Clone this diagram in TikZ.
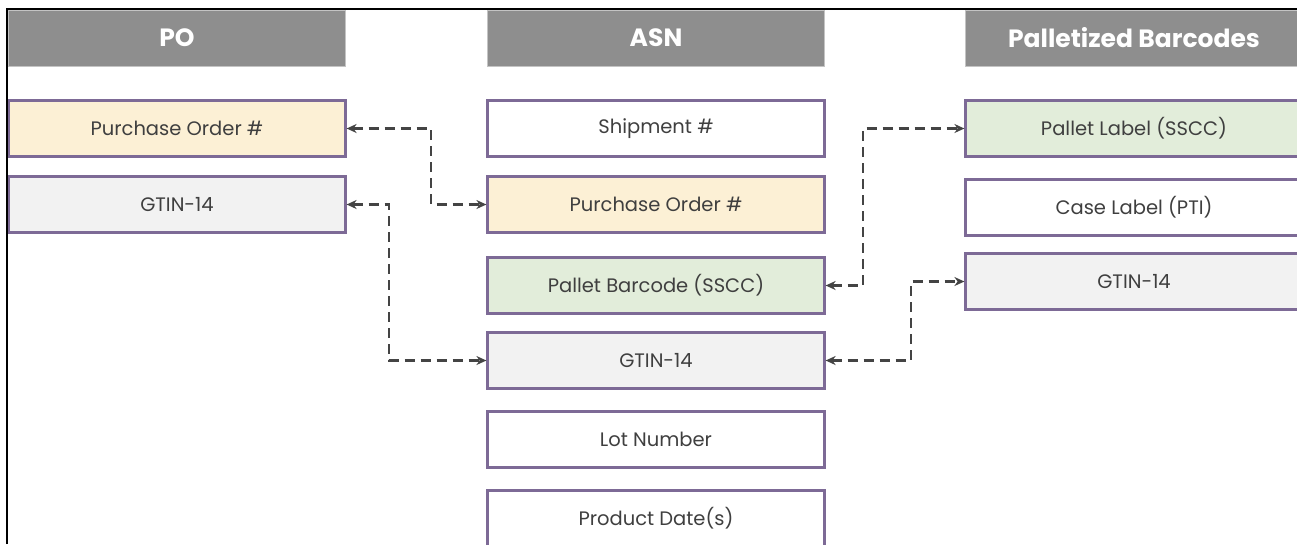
\documentclass[tikz,border=0pt]{standalone}
\usepackage{fontspec}
\setmainfont{Poppins}
\usetikzlibrary{arrows.meta}

\definecolor{hdrgray}{HTML}{8E8E8E}
\definecolor{hdredge}{HTML}{C4C4C4}
\definecolor{edge}{HTML}{7D6A96}
\definecolor{txt}{HTML}{3F3F3F}
\definecolor{yel}{HTML}{FCF0D5}
\definecolor{lgray}{HTML}{F2F2F2}
\definecolor{grn}{HTML}{E2EDDA}
\definecolor{linkgray}{HTML}{444444}

\begin{document}
\begin{tikzpicture}[x=1pt,y=-1pt,
  head/.style={rectangle,fill=hdrgray,draw=hdredge,line width=1pt,text=white,
    font=\fontsize{25}{28}\selectfont\bfseries,minimum width=337pt,minimum height=56pt,inner sep=0pt},
  field/.style={rectangle,draw=edge,line width=2.2pt,text=txt,
    font=\fontsize{19.5}{22}\selectfont,minimum width=337pt,minimum height=56pt,inner sep=0pt},
  link/.style={draw=linkgray,line width=2.6pt,dash pattern=on 10pt off 6pt,
    {Stealth[length=10pt,width=9pt]}-{Stealth[length=10pt,width=9pt]}}]
\useasboundingbox (0,0) rectangle (1297,544);
\clip (0,0) rectangle (1297,544);

\coordinate (J1) at (431,0);
\coordinate (J2) at (389,0);
\coordinate (J3) at (863,0);
\coordinate (J4) at (911,0);

% headers
\node[head] (H1) at (177,38) {PO};
\node[head] (H2) at (656,38) {ASN};
\node[head] (H3) at (1134,38) {Palletized Barcodes};

% PO fields
\node[field,fill=yel] (P1) at (177,128.5) {Purchase Order \#};
\node[field,fill=lgray] (P2) at (177,204.5) {GTIN-14};

% ASN fields
\node[field] (A1) at (656,128.5) {Shipment \#};
\node[field,fill=yel] (A2) at (656,204.5) {Purchase Order \#};
\node[field,fill=grn] (A3) at (656,285.5) {Pallet Barcode (SSCC)};
\node[field,fill=lgray] (A4) at (656,360.5) {GTIN-14};
\node[field] (A5) at (656,439.5) {Lot Number};
\node[field] (A6) at (656,518.5) {Product Date(s)};

% barcode fields
\node[field,fill=grn] (B1) at (1134,128.5) {Pallet Label (SSCC)};
\node[field] (B2) at (1134,207.5) {Case Label (PTI)};
\node[field,fill=lgray] (B3) at (1134,281.5) {GTIN-14};

\draw[link] (P1) -- (P1 -| J1) |- (A2);
\draw[link] (P2) -- (P2 -| J2) |- (A4);
\draw[link] (A3) -- (A3 -| J3) |- (B1);
\draw[link] (A4) -- (A4 -| J4) |- (B3);

% frame
\draw[line width=2.5pt] (7,544) -- (7,9) -- (1297,9);

\end{tikzpicture}
\end{document}
